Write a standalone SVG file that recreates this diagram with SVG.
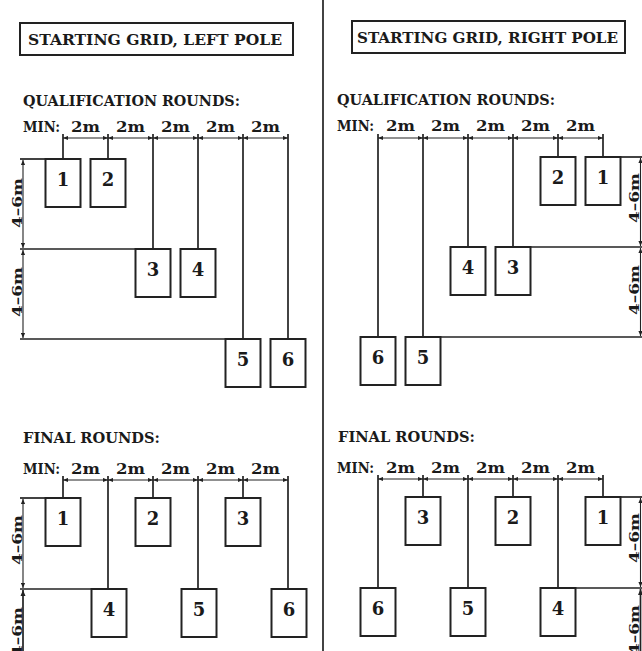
<svg xmlns="http://www.w3.org/2000/svg" width="642" height="651" viewBox="0 0 642 651">
<defs>
<marker id="arr" viewBox="0 0 6 6" refX="6" refY="3" markerWidth="5" markerHeight="5" markerUnits="userSpaceOnUse" orient="auto-start-reverse">
<path d="M0,0.5 L6,3 L0,5.5 z" fill="#222"/>
</marker>
<style>
.ln{stroke:#222;stroke-width:1.7;fill:none}
.dim{stroke:#222;stroke-width:1.1;fill:none;marker-start:url(#arr);marker-end:url(#arr)}
.box{stroke:#222;stroke-width:2;fill:#fff}
.hd{font-family:"DejaVu Serif","Liberation Serif",serif;font-weight:bold;font-size:14px;fill:#1a1a1a}
.tt{font-family:"DejaVu Serif","Liberation Serif",serif;font-weight:bold;font-size:15px;fill:#1a1a1a}
.num{font-family:"DejaVu Serif","Liberation Serif",serif;font-weight:bold;font-size:18px;fill:#1a1a1a;text-anchor:middle}
.rot{font-family:"DejaVu Serif","Liberation Serif",serif;font-weight:bold;font-size:13px;fill:#1a1a1a;text-anchor:middle}
</style>
</defs>
<rect width="642" height="651" fill="#fff"/>

<g id="titles">
<rect x="20" y="23" width="273" height="32" fill="none" stroke="#222" stroke-width="2"/>
<text class="tt" x="28" y="45" textLength="254" lengthAdjust="spacingAndGlyphs">STARTING GRID, LEFT POLE</text>
<rect x="352" y="21" width="273" height="32" fill="none" stroke="#222" stroke-width="2"/>
<text class="tt" x="357" y="43" textLength="261" lengthAdjust="spacingAndGlyphs">STARTING GRID, RIGHT POLE</text>
</g>

<g id="labels">
<text class="hd" x="23" y="106" textLength="217" lengthAdjust="spacingAndGlyphs">QUALIFICATION ROUNDS:</text>
<text class="hd" x="337" y="105" textLength="218" lengthAdjust="spacingAndGlyphs">QUALIFICATION ROUNDS:</text>
<text class="hd" x="23" y="443" textLength="137" lengthAdjust="spacingAndGlyphs">FINAL ROUNDS:</text>
<text class="hd" x="338" y="442" textLength="137" lengthAdjust="spacingAndGlyphs">FINAL ROUNDS:</text>

<text class="hd" x="23" y="132" textLength="37" lengthAdjust="spacingAndGlyphs">MIN:</text>
<g class="hd" text-anchor="middle">
<text x="85.5" y="132" textLength="29" lengthAdjust="spacingAndGlyphs">2m</text><text x="130.5" y="132" textLength="29" lengthAdjust="spacingAndGlyphs">2m</text><text x="175.5" y="132" textLength="29" lengthAdjust="spacingAndGlyphs">2m</text><text x="220.5" y="132" textLength="29" lengthAdjust="spacingAndGlyphs">2m</text><text x="265.5" y="132" textLength="29" lengthAdjust="spacingAndGlyphs">2m</text>
</g>
<text class="hd" x="337" y="131" textLength="37" lengthAdjust="spacingAndGlyphs">MIN:</text>
<g class="hd" text-anchor="middle">
<text x="400.5" y="131" textLength="29" lengthAdjust="spacingAndGlyphs">2m</text><text x="445.5" y="131" textLength="29" lengthAdjust="spacingAndGlyphs">2m</text><text x="490.5" y="131" textLength="29" lengthAdjust="spacingAndGlyphs">2m</text><text x="535.5" y="131" textLength="29" lengthAdjust="spacingAndGlyphs">2m</text><text x="580.5" y="131" textLength="29" lengthAdjust="spacingAndGlyphs">2m</text>
</g>
<text class="hd" x="23" y="474" textLength="37" lengthAdjust="spacingAndGlyphs">MIN:</text>
<g class="hd" text-anchor="middle">
<text x="85.5" y="474" textLength="29" lengthAdjust="spacingAndGlyphs">2m</text><text x="130.5" y="474" textLength="29" lengthAdjust="spacingAndGlyphs">2m</text><text x="175.5" y="474" textLength="29" lengthAdjust="spacingAndGlyphs">2m</text><text x="220.5" y="474" textLength="29" lengthAdjust="spacingAndGlyphs">2m</text><text x="265.5" y="474" textLength="29" lengthAdjust="spacingAndGlyphs">2m</text>
</g>
<text class="hd" x="337" y="473" textLength="37" lengthAdjust="spacingAndGlyphs">MIN:</text>
<g class="hd" text-anchor="middle">
<text x="400.5" y="473" textLength="29" lengthAdjust="spacingAndGlyphs">2m</text><text x="445.5" y="473" textLength="29" lengthAdjust="spacingAndGlyphs">2m</text><text x="490.5" y="473" textLength="29" lengthAdjust="spacingAndGlyphs">2m</text><text x="535.5" y="473" textLength="29" lengthAdjust="spacingAndGlyphs">2m</text><text x="580.5" y="473" textLength="29" lengthAdjust="spacingAndGlyphs">2m</text>
</g>

<text class="rot" transform="translate(22,203) rotate(-90)" textLength="50" lengthAdjust="spacingAndGlyphs">4–6m</text>
<text class="rot" transform="translate(22,292) rotate(-90)" textLength="50" lengthAdjust="spacingAndGlyphs">4–6m</text>
<text class="rot" transform="translate(639,198) rotate(-90)" textLength="50" lengthAdjust="spacingAndGlyphs">4–6m</text>
<text class="rot" transform="translate(639,290) rotate(-90)" textLength="50" lengthAdjust="spacingAndGlyphs">4–6m</text>
<text class="rot" transform="translate(22,540) rotate(-90)" textLength="50" lengthAdjust="spacingAndGlyphs">4–6m</text>
<text class="rot" transform="translate(22,632) rotate(-90)" textLength="50" lengthAdjust="spacingAndGlyphs">4–6m</text>
<text class="rot" transform="translate(639,538) rotate(-90)" textLength="50" lengthAdjust="spacingAndGlyphs">4–6m</text>
<text class="rot" transform="translate(639,630) rotate(-90)" textLength="50" lengthAdjust="spacingAndGlyphs">4–6m</text>
</g>

<g id="connectors">
<line class="ln" x1="323" y1="0" x2="323" y2="651" stroke-width="2"/>
<!-- left qualification -->
<line class="dim" x1="63" y1="138" x2="108" y2="138"/>
<line class="dim" x1="108" y1="138" x2="153" y2="138"/>
<line class="dim" x1="153" y1="138" x2="198" y2="138"/>
<line class="dim" x1="198" y1="138" x2="243" y2="138"/>
<line class="dim" x1="243" y1="138" x2="288" y2="138"/>
<line class="ln" x1="63" y1="134" x2="63" y2="159"/>
<line class="ln" x1="108" y1="134" x2="108" y2="159"/>
<line class="ln" x1="153" y1="134" x2="153" y2="249"/>
<line class="ln" x1="198" y1="134" x2="198" y2="249"/>
<line class="ln" x1="243" y1="134" x2="243" y2="339"/>
<line class="ln" x1="288" y1="134" x2="288" y2="339"/>
<line class="ln" x1="20" y1="159" x2="46" y2="159"/>
<line class="ln" x1="20" y1="249" x2="136" y2="249"/>
<line class="ln" x1="20" y1="339" x2="226" y2="339"/>
<line class="dim" x1="23" y1="160" x2="23" y2="248"/>
<line class="dim" x1="23" y1="250" x2="23" y2="338"/>
<!-- right qualification -->
<line class="dim" x1="378" y1="138" x2="423" y2="138"/>
<line class="dim" x1="423" y1="138" x2="468" y2="138"/>
<line class="dim" x1="468" y1="138" x2="513" y2="138"/>
<line class="dim" x1="513" y1="138" x2="558" y2="138"/>
<line class="dim" x1="558" y1="138" x2="603" y2="138"/>
<line class="ln" x1="378" y1="134" x2="378" y2="337"/>
<line class="ln" x1="423" y1="134" x2="423" y2="337"/>
<line class="ln" x1="468" y1="134" x2="468" y2="247"/>
<line class="ln" x1="513" y1="134" x2="513" y2="247"/>
<line class="ln" x1="558" y1="134" x2="558" y2="157"/>
<line class="ln" x1="603" y1="134" x2="603" y2="157"/>
<line class="ln" x1="620" y1="157" x2="642" y2="157"/>
<line class="ln" x1="530" y1="247" x2="642" y2="247"/>
<line class="ln" x1="440" y1="337" x2="642" y2="337"/>
<line class="dim" x1="640.5" y1="158" x2="640.5" y2="246"/>
<line class="dim" x1="640.5" y1="248" x2="640.5" y2="336"/>
<!-- left final -->
<line class="dim" x1="63" y1="480" x2="108" y2="480"/>
<line class="dim" x1="108" y1="480" x2="153" y2="480"/>
<line class="dim" x1="153" y1="480" x2="198" y2="480"/>
<line class="dim" x1="198" y1="480" x2="243" y2="480"/>
<line class="dim" x1="243" y1="480" x2="288" y2="480"/>
<line class="ln" x1="63" y1="476" x2="63" y2="498"/>
<line class="ln" x1="153" y1="476" x2="153" y2="498"/>
<line class="ln" x1="243" y1="476" x2="243" y2="498"/>
<line class="ln" x1="108" y1="476" x2="108" y2="589"/>
<line class="ln" x1="198" y1="476" x2="198" y2="589"/>
<line class="ln" x1="288" y1="476" x2="288" y2="589"/>
<line class="ln" x1="20" y1="498" x2="46" y2="498"/>
<line class="ln" x1="20" y1="589" x2="91" y2="589"/>
<line class="dim" x1="23" y1="499" x2="23" y2="588"/>
<line class="ln" x1="23" y1="590" x2="23" y2="651" stroke-width="1.1"/>
<path d="M20.5,596 L23,590 L25.5,596 z" fill="#222"/>
<!-- right final -->
<line class="dim" x1="378" y1="479" x2="423" y2="479"/>
<line class="dim" x1="423" y1="479" x2="468" y2="479"/>
<line class="dim" x1="468" y1="479" x2="513" y2="479"/>
<line class="dim" x1="513" y1="479" x2="558" y2="479"/>
<line class="dim" x1="558" y1="479" x2="603" y2="479"/>
<line class="ln" x1="423" y1="475" x2="423" y2="497"/>
<line class="ln" x1="513" y1="475" x2="513" y2="497"/>
<line class="ln" x1="603" y1="475" x2="603" y2="497"/>
<line class="ln" x1="378" y1="475" x2="378" y2="588"/>
<line class="ln" x1="468" y1="475" x2="468" y2="588"/>
<line class="ln" x1="558" y1="475" x2="558" y2="588"/>
<line class="ln" x1="620" y1="497" x2="642" y2="497"/>
<line class="ln" x1="575" y1="588" x2="642" y2="588"/>
<line class="dim" x1="640.5" y1="498" x2="640.5" y2="587"/>
<line class="ln" x1="640.5" y1="589" x2="640.5" y2="651" stroke-width="1.1"/>
<path d="M638,595 L640.5,589 L643,595 z" fill="#222"/>
</g>

<!-- left qualification boxes -->
<g id="ql1"><rect class="box" x="45.5" y="159" width="35" height="48"/><text class="num" x="63" y="186">1</text></g>
<g id="ql2"><rect class="box" x="90.5" y="159" width="35" height="48"/><text class="num" x="108" y="186">2</text></g>
<g id="ql3"><rect class="box" x="135.5" y="249" width="35" height="48"/><text class="num" x="153" y="276">3</text></g>
<g id="ql4"><rect class="box" x="180.5" y="249" width="35" height="48"/><text class="num" x="198" y="276">4</text></g>
<g id="ql5"><rect class="box" x="225.5" y="339" width="35" height="48"/><text class="num" x="243" y="366">5</text></g>
<g id="ql6"><rect class="box" x="270.5" y="339" width="35" height="48"/><text class="num" x="288" y="366">6</text></g>
<!-- right qualification boxes -->
<g id="qr2"><rect class="box" x="540.5" y="157" width="35" height="48"/><text class="num" x="558" y="184">2</text></g>
<g id="qr1"><rect class="box" x="585.5" y="157" width="35" height="48"/><text class="num" x="603" y="184">1</text></g>
<g id="qr4"><rect class="box" x="450.5" y="247" width="35" height="48"/><text class="num" x="468" y="274">4</text></g>
<g id="qr3"><rect class="box" x="495.5" y="247" width="35" height="48"/><text class="num" x="513" y="274">3</text></g>
<g id="qr6"><rect class="box" x="360.5" y="337" width="35" height="48"/><text class="num" x="378" y="364">6</text></g>
<g id="qr5"><rect class="box" x="405.5" y="337" width="35" height="48"/><text class="num" x="423" y="364">5</text></g>
<!-- left final boxes -->
<g id="fl1"><rect class="box" x="45.5" y="498" width="35" height="48"/><text class="num" x="63" y="525">1</text></g>
<g id="fl2"><rect class="box" x="135.5" y="498" width="35" height="48"/><text class="num" x="153" y="525">2</text></g>
<g id="fl3"><rect class="box" x="225.5" y="498" width="35" height="48"/><text class="num" x="243" y="525">3</text></g>
<g id="fl4"><rect class="box" x="91.5" y="589" width="35" height="48"/><text class="num" x="109" y="616">4</text></g>
<g id="fl5"><rect class="box" x="181.5" y="589" width="35" height="48"/><text class="num" x="199" y="616">5</text></g>
<g id="fl6"><rect class="box" x="271.5" y="589" width="35" height="48"/><text class="num" x="289" y="616">6</text></g>
<!-- right final boxes -->
<g id="fr3"><rect class="box" x="405.5" y="497" width="35" height="48"/><text class="num" x="423" y="524">3</text></g>
<g id="fr2"><rect class="box" x="495.5" y="497" width="35" height="48"/><text class="num" x="513" y="524">2</text></g>
<g id="fr1"><rect class="box" x="585.5" y="497" width="35" height="48"/><text class="num" x="603" y="524">1</text></g>
<g id="fr6"><rect class="box" x="360.5" y="588" width="35" height="48"/><text class="num" x="378" y="615">6</text></g>
<g id="fr5"><rect class="box" x="450.5" y="588" width="35" height="48"/><text class="num" x="468" y="615">5</text></g>
<g id="fr4"><rect class="box" x="540.5" y="588" width="35" height="48"/><text class="num" x="558" y="615">4</text></g>
</svg>
